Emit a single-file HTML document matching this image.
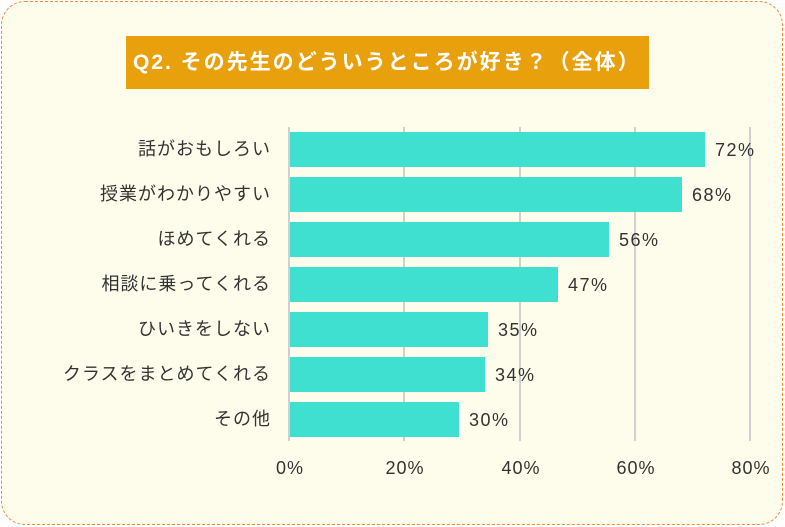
<!DOCTYPE html>
<html><head><meta charset="utf-8"><style>
body{margin:0;width:785px;height:527px;background:#fff;font-family:"Liberation Sans","Noto Sans CJK JP",sans-serif;}
.frame{position:absolute;left:1px;top:1px;width:782px;height:524px;border:1.5px dashed #F08A3C;border-radius:24px;background:#FEFDEC;box-sizing:border-box;}
.title{position:absolute;left:126px;top:36px;width:523px;height:53px;background:#E8A00C;color:#fff;font-weight:bold;font-size:21px;letter-spacing:2px;line-height:53px;padding-left:7px;box-sizing:border-box;white-space:nowrap;}
</style></head><body>
<div class="frame"></div>
<div class="title">Q2. その先生のどういうところが好き？（全体）</div>
<svg width="785" height="527" style="position:absolute;left:0;top:0" font-family="Liberation Sans, Noto Sans CJK JP, sans-serif">
<g stroke="#d0d0d0" stroke-width="2">
<line x1="289" y1="127" x2="289" y2="441"/><line x1="404" y1="127" x2="404" y2="441"/><line x1="520" y1="127" x2="520" y2="441"/><line x1="635" y1="127" x2="635" y2="441"/><line x1="750" y1="127" x2="750" y2="441"/>
</g>
<g fill="#40E0D0">
<rect x="290" y="132" width="415" height="35"/>
<rect x="290" y="177" width="392" height="35"/>
<rect x="290" y="222" width="319" height="35"/>
<rect x="290" y="267" width="268" height="35"/>
<rect x="290" y="312" width="198" height="35"/>
<rect x="290" y="357" width="195" height="35"/>
<rect x="290" y="402" width="169" height="35"/>
</g>
<g font-size="18" fill="#333" letter-spacing="1.5">
<text x="715" y="156">72%</text><text x="692" y="201">68%</text><text x="619" y="246">56%</text><text x="568" y="291">47%</text><text x="498" y="336">35%</text><text x="495" y="381">34%</text><text x="469" y="426">30%</text>
</g>
<g font-size="18" fill="#333" text-anchor="end" letter-spacing="1">
<text x="271" y="155">話がおもしろい</text><text x="271" y="200">授業がわかりやすい</text><text x="271" y="245">ほめてくれる</text><text x="271" y="290">相談に乗ってくれる</text><text x="271" y="335">ひいきをしない</text><text x="271" y="380">クラスをまとめてくれる</text><text x="271" y="425">その他</text>
</g>
<g font-size="18" fill="#333" text-anchor="middle" letter-spacing="1">
<text x="290" y="474">0%</text><text x="405" y="474">20%</text><text x="521" y="474">40%</text><text x="636" y="474">60%</text><text x="751" y="474">80%</text>
</g>
</svg>
</body></html>
